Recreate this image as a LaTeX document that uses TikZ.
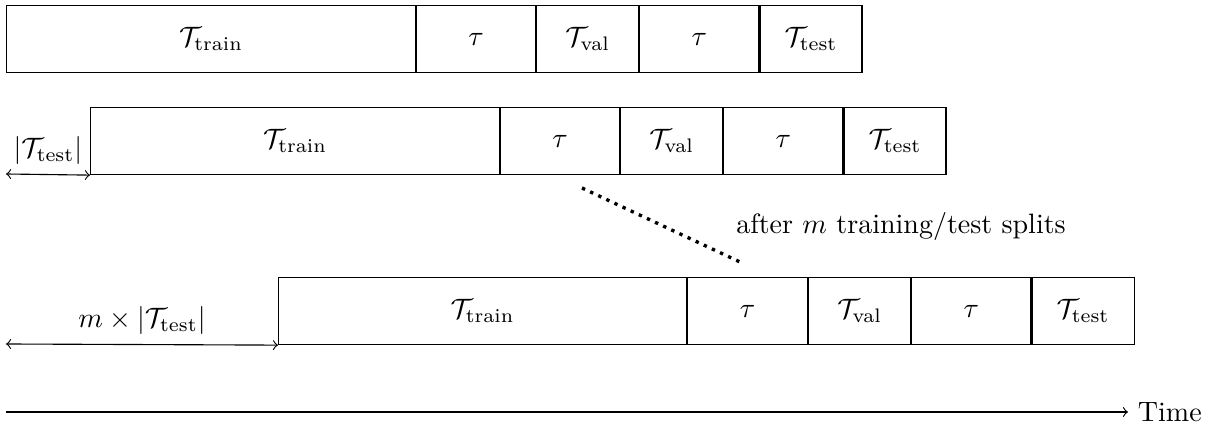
\documentclass[tikz,border=0pt]{standalone}
\usepackage{amsmath}
\begin{document}
\begin{tikzpicture}[x=0.357pt,y=-0.357pt,
  seg/.style={draw, line width=0.4pt, inner sep=0pt, anchor=north west, minimum height=67*0.357pt},
  span/.style={<->, line width=0.4pt},
  lbl/.style={inner sep=0pt}]
\useasboundingbox (0,0) rectangle (1205,428);
% row 1
\node[seg, minimum width=409*0.357pt] (r1a) at (6,5) {$\mathcal{T}_{\text{train}}$};
\node[seg, minimum width=119*0.357pt] (r1b) at (r1a.north east) {$\tau$};
\node[seg, minimum width=102*0.357pt] (r1c) at (r1b.north east) {$\mathcal{T}_{\text{val}}$};
\node[seg, minimum width=119*0.357pt] (r1d) at (r1c.north east) {$\tau$};
\node[seg, minimum width=102*0.357pt] (r1e) at (r1d.north east) {$\mathcal{T}_{\text{test}}$};
% row 2
\node[seg, minimum width=409*0.357pt] (r2a) at (90,107) {$\mathcal{T}_{\text{train}}$};
\node[seg, minimum width=119*0.357pt] (r2b) at (r2a.north east) {$\tau$};
\node[seg, minimum width=102*0.357pt] (r2c) at (r2b.north east) {$\mathcal{T}_{\text{val}}$};
\node[seg, minimum width=119*0.357pt] (r2d) at (r2c.north east) {$\tau$};
\node[seg, minimum width=102*0.357pt] (r2e) at (r2d.north east) {$\mathcal{T}_{\text{test}}$};
% row 3
\node[seg, minimum width=408*0.357pt] (r3a) at (278,277) {$\mathcal{T}_{\text{train}}$};
\node[seg, minimum width=120*0.357pt] (r3b) at (r3a.north east) {$\tau$};
\node[seg, minimum width=102*0.357pt] (r3c) at (r3b.north east) {$\mathcal{T}_{\text{val}}$};
\node[seg, minimum width=119*0.357pt] (r3d) at (r3c.north east) {$\tau$};
\node[seg, minimum width=102*0.357pt] (r3e) at (r3d.north east) {$\mathcal{T}_{\text{test}}$};
% offset arrows
\coordinate (s2) at (6,174);
\draw[span] (s2) -- node[above] {$|\mathcal{T}_{\text{test}}|$} (r2a.south west);
\coordinate (s3) at (6,344);
\draw[span] (s3) -- node[above] {$m \times |\mathcal{T}_{\text{test}}|$} (r3a.south west);
% dotted
\coordinate (d1) at (582,188);
\coordinate (d2) at (740,262);
\draw[very thick, dotted] (d1) -- (d2);
\node[lbl] (note) at (901,227) {after $m$ training/test splits};
% time axis
\coordinate (t0) at (6,412);
\node[anchor=west] (time) at (1128,412) {Time};
\draw[->, line width=0.4pt] (t0) -- (time.west);
\end{tikzpicture}
\end{document}
